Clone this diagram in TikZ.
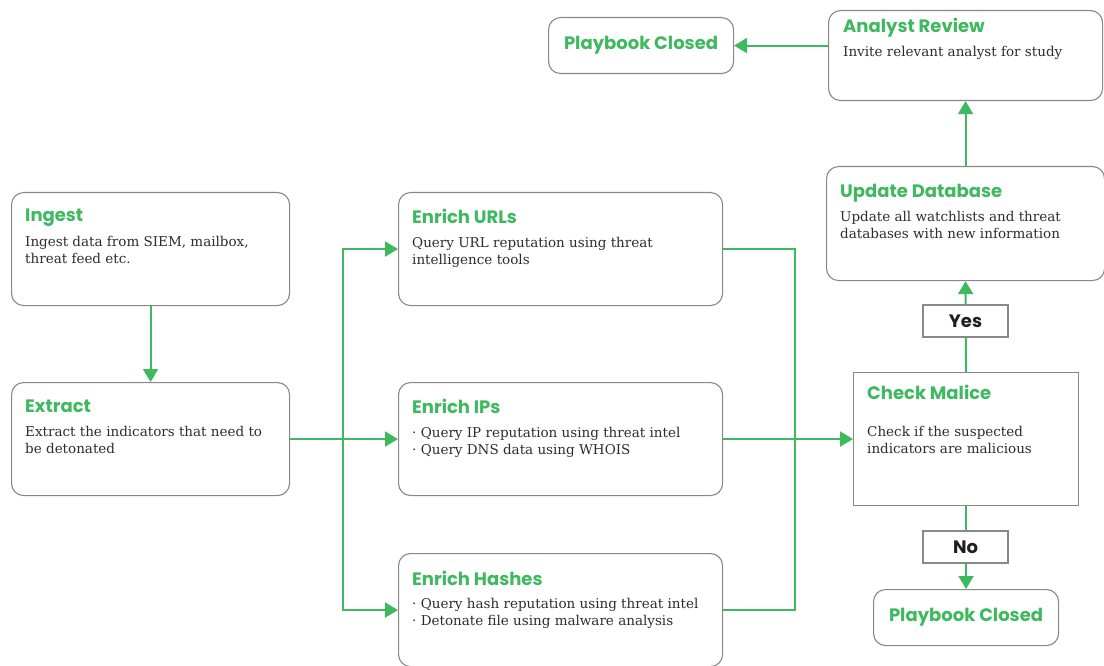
\documentclass[tikz,border=0pt]{standalone}
\usepackage{fontspec}
\setmainfont{DejaVu Serif}
\newfontfamily\headfont{Poppins}
\usetikzlibrary{arrows.meta,calc}
\definecolor{fgreen}{RGB}{62,185,95}
\definecolor{bgray}{RGB}{136,136,136}
\definecolor{btext}{RGB}{45,45,45}
\begin{document}
\begin{tikzpicture}[x=1pt,y=-1pt,
  rbox/.style={draw=bgray,line width=1.1pt,rounded corners=12pt,fill=white,anchor=north west,inner sep=0pt},
  sbox/.style={draw=bgray,line width=1.1pt,fill=white,anchor=north west,inner sep=0pt},
  ttl/.style={anchor=base west,inner sep=0pt,text=fgreen,font=\headfont\bfseries\fontsize{18}{21}\selectfont},
  body/.style={anchor=base west,inner sep=0pt,text=btext,align=left,font=\fontsize{13.5}{17}\selectfont},
  lbl/.style={draw=bgray,line width=1.1pt,fill=white,minimum width=85pt,minimum height=32pt,inner sep=0pt,font=\headfont\bfseries\fontsize{18}{21}\selectfont,text=black!88},
  conn/.style={draw=fgreen,line width=2pt},
  arr/.style={conn,-{Triangle[length=13pt,width=15pt]}}
]
\useasboundingbox (0,0) rectangle (1104,666);
\fill[white] (0,0) rectangle (1104,666);

% boxes
\node[rbox,minimum width=278pt,minimum height=113pt] (ingest) at (11,192) {};
\node[rbox,minimum width=278pt,minimum height=113pt] (extract) at (11,382) {};
\node[rbox,minimum width=324pt,minimum height=113pt] (urls) at (398,192) {};
\node[rbox,minimum width=324pt,minimum height=113pt] (ips) at (398,382) {};
\node[rbox,minimum width=324pt,minimum height=113pt] (hashes) at (398,553) {};
\node[sbox,minimum width=225pt,minimum height=133pt] (check) at (853,372) {};
\node[rbox,minimum width=278pt,minimum height=114pt] (update) at (826,166) {};
\node[rbox,minimum width=274pt,minimum height=90pt] (analyst) at (828,10) {};
\node[rbox,minimum width=185pt,minimum height=56pt] (pbtop) at (548,17) {};
\node[rbox,minimum width=185pt,minimum height=56pt] (pbbot) at (873,589) {};

% titles and bodies (two-line bodies: base anchor is on the last line)
\node[ttl] (ingestT) at ($(ingest.north west)+(14,30)$) {Ingest};
\node[body] (ingestB) at ($(ingest.north west)+(14,71)$) {Ingest data from SIEM, mailbox,\\threat feed etc.};
\node[ttl] (extractT) at ($(extract.north west)+(14,30)$) {Extract};
\node[body] (extractB) at ($(extract.north west)+(14,71)$) {Extract the indicators that need to\\be detonated};
\node[ttl] (urlsT) at ($(urls.north west)+(14,31)$) {Enrich URLs};
\node[body] (urlsB) at ($(urls.north west)+(14,72)$) {Query URL reputation using threat\\intelligence tools};
\node[ttl] (ipsT) at ($(ips.north west)+(14,31)$) {Enrich IPs};
\node[body] (ipsB) at ($(ips.north west)+(14,72)$) {· Query IP reputation using threat intel\\· Query DNS data using WHOIS};
\node[ttl] (hashesT) at ($(hashes.north west)+(14,32)$) {Enrich Hashes};
\node[body] (hashesB) at ($(hashes.north west)+(14,72)$) {· Query hash reputation using threat intel\\· Detonate file using malware analysis};
\node[ttl] (checkT) at ($(check.north west)+(14,27)$) {Check Malice};
\node[body] (checkB) at ($(check.north west)+(14,81)$) {Check if the suspected\\indicators are malicious};
\node[ttl] (updateT) at ($(update.north west)+(14,32)$) {Update Database};
\node[body] (updateB) at ($(update.north west)+(14,72)$) {Update all watchlists and threat\\databases with new information};
\node[ttl] (analystT) at ($(analyst.north west)+(15,23)$) {Analyst Review};
\node[body] (analystB) at ($(analyst.north west)+(15,47)$) {Invite relevant analyst for study};
\node[ttl,anchor=center] (pbtopT) at (pbtop.center) {Playbook Closed};
\node[ttl,anchor=center] (pbbotT) at (pbbot.center) {Playbook Closed};

% connectors
\coordinate (bus) at (343,0);
\coordinate (merge) at (795,0);
\draw[arr] (ingest.south) -- (extract.north);
\draw[arr] (extract.east) -- (ips.west);
\draw[arr] (extract.east -| bus) |- (urls.west);
\draw[arr] (extract.east -| bus) |- (hashes.west);
\draw[conn] (urls.east) -| (merge |- hashes.east) -- (hashes.east);
\draw[arr] (ips.east) -- (check.west);
\draw[arr] (check.north) -- (update.south);
\draw[arr] (check.south) -- (pbbot.north);
\draw[arr] (update.north) -- (analyst.south);
\draw[arr] (analyst.west |- pbtop.east) -- (pbtop.east);

% decision labels
\node[lbl] (yes) at (965.5,321) {Yes};
\node[lbl] (no) at (965.5,547) {No};
\end{tikzpicture}
\end{document}
